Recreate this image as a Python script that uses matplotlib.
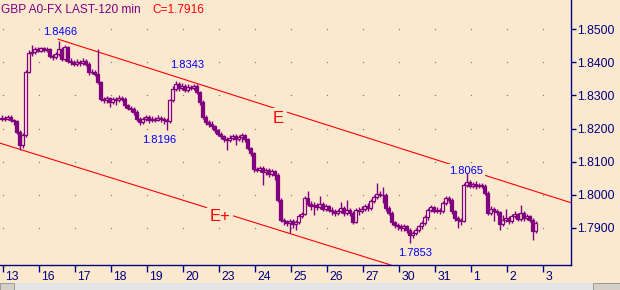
import numpy as np
import matplotlib
matplotlib.use("Agg")
import matplotlib.pyplot as plt
import matplotlib.transforms as mtransforms
from matplotlib.patches import Rectangle

plt.rcParams['font.family'] = ['Liberation Sans', 'DejaVu Sans']

# 120 min bars, 12 per day; open of each bar = previous close
first_open = 1.8228
closes = [
    1.8233, 1.8230, 1.8236, 1.8226, 1.8222, 1.8190, 1.8150, 1.8180, 1.8372, 1.8428,
    1.8432, 1.8440, 1.8435, 1.8442, 1.8438, 1.8440, 1.8420, 1.8415, 1.8425, 1.8440,
    1.8410, 1.8445, 1.8405, 1.8400, 1.8395, 1.8402, 1.8398, 1.8405, 1.8396, 1.8370,
    1.8372, 1.8365, 1.8340, 1.8290, 1.8285, 1.8292, 1.8280, 1.8288, 1.8285, 1.8293,
    1.8290, 1.8270, 1.8262, 1.8258, 1.8250, 1.8228, 1.8220, 1.8228, 1.8235, 1.8225,
    1.8230, 1.8227, 1.8233, 1.8228, 1.8225, 1.8222, 1.8285, 1.8320, 1.8335, 1.8322,
    1.8330, 1.8318, 1.8326, 1.8322, 1.8330, 1.8310, 1.8280, 1.8235, 1.8220, 1.8215,
    1.8208, 1.8195, 1.8185, 1.8178, 1.8168, 1.8165, 1.8172, 1.8178, 1.8170, 1.8176,
    1.8180, 1.8168, 1.8140, 1.8125, 1.8078, 1.8075, 1.8082, 1.8068, 1.8075, 1.8062,
    1.8072, 1.8060, 1.7985, 1.7925, 1.7920, 1.7915, 1.7922, 1.7912, 1.7918, 1.7935,
    1.7942, 1.7990, 1.7972, 1.7965, 1.7970, 1.7962, 1.7972, 1.7958, 1.7965, 1.7955,
    1.7950, 1.7945, 1.7952, 1.7960, 1.7945, 1.7955, 1.7945, 1.7918, 1.7955, 1.7950,
    1.7958, 1.7965, 1.7960, 1.7980, 1.7992, 1.8002, 1.7998, 1.8000, 1.7960, 1.7945,
    1.7918, 1.7910, 1.7905, 1.7900, 1.7905, 1.7895, 1.7880, 1.7885, 1.7895, 1.7905,
    1.7915, 1.7932, 1.7955, 1.7962, 1.7952, 1.7955, 1.7950, 1.7975, 1.7990, 1.7985,
    1.7950, 1.7930, 1.7925, 1.7922, 1.8030, 1.8038, 1.8028, 1.8032, 1.8026, 1.8030,
    1.8028, 1.8005, 1.7945, 1.7958, 1.7952, 1.7948, 1.7912, 1.7925, 1.7930, 1.7920,
    1.7935, 1.7942, 1.7928, 1.7945, 1.7930, 1.7935, 1.7925, 1.7890, 1.7916,
]
highs = [
    1.8240, 1.8238, 1.8242, 1.8240, 1.8230, 1.8226, 1.8195, 1.8186, 1.8378, 1.8436,
    1.8453, 1.8448, 1.8446, 1.8448, 1.8447, 1.8446, 1.8444, 1.8426, 1.8432, 1.8466,
    1.8448, 1.8452, 1.8450, 1.8412, 1.8408, 1.8410, 1.8408, 1.8412, 1.8410, 1.8400,
    1.8380, 1.8378, 1.8440, 1.8345, 1.8296, 1.8298, 1.8296, 1.8294, 1.8295, 1.8300,
    1.8298, 1.8294, 1.8275, 1.8268, 1.8264, 1.8255, 1.8234, 1.8236, 1.8242, 1.8240,
    1.8238, 1.8236, 1.8240, 1.8238, 1.8234, 1.8232, 1.8290, 1.8330, 1.8343, 1.8340,
    1.8338, 1.8336, 1.8334, 1.8332, 1.8336, 1.8334, 1.8314, 1.8286, 1.8240, 1.8226,
    1.8222, 1.8212, 1.8200, 1.8190, 1.8182, 1.8174, 1.8180, 1.8185, 1.8184, 1.8182,
    1.8186, 1.8184, 1.8172, 1.8145, 1.8130, 1.8084, 1.8088, 1.8086, 1.8082, 1.8080,
    1.8078, 1.8076, 1.8065, 1.7990, 1.7930, 1.7925, 1.7928, 1.7926, 1.7925, 1.7942,
    1.7948, 1.7996, 1.8010, 1.7980, 1.7978, 1.7976, 1.7995, 1.7978, 1.7972, 1.7970,
    1.7962, 1.7956, 1.7958, 1.7978, 1.7966, 1.7985, 1.7960, 1.7950, 1.7960, 1.7962,
    1.7965, 1.7972, 1.7975, 1.7986, 1.8000, 1.8036, 1.8010, 1.8025, 1.8004, 1.7965,
    1.7950, 1.7922, 1.7915, 1.7912, 1.7912, 1.7910, 1.7900, 1.7892, 1.7900, 1.7910,
    1.7920, 1.7940, 1.7960, 1.7970, 1.7966, 1.7962, 1.7960, 1.7982, 1.7995, 1.7995,
    1.7990, 1.7955, 1.7935, 1.7930, 1.8036, 1.8065, 1.8045, 1.8040, 1.8042, 1.8036,
    1.8036, 1.8032, 1.8010, 1.7965, 1.7962, 1.7958, 1.7952, 1.7940, 1.7958, 1.7936,
    1.7942, 1.7950, 1.7946, 1.7970, 1.7950, 1.7942, 1.7940, 1.7930, 1.7922,
]
lows = [
    1.8222, 1.8224, 1.8226, 1.8220, 1.8212, 1.8184, 1.8136, 1.8142, 1.8176, 1.8368,
    1.8420, 1.8426, 1.8430, 1.8430, 1.8432, 1.8432, 1.8414, 1.8408, 1.8410, 1.8420,
    1.8404, 1.8405, 1.8398, 1.8392, 1.8388, 1.8390, 1.8390, 1.8392, 1.8388, 1.8362,
    1.8364, 1.8360, 1.8334, 1.8282, 1.8276, 1.8278, 1.8265, 1.8274, 1.8270, 1.8280,
    1.8282, 1.8262, 1.8255, 1.8250, 1.8242, 1.8222, 1.8212, 1.8214, 1.8222, 1.8218,
    1.8220, 1.8220, 1.8222, 1.8220, 1.8215, 1.8196, 1.8218, 1.8280, 1.8315, 1.8315,
    1.8316, 1.8310, 1.8312, 1.8316, 1.8318, 1.8305, 1.8272, 1.8228, 1.8212, 1.8206,
    1.8200, 1.8188, 1.8178, 1.8170, 1.8160, 1.8135, 1.8160, 1.8166, 1.8150, 1.8164,
    1.8158, 1.8160, 1.8134, 1.8118, 1.8070, 1.8068, 1.8070, 1.8030, 1.8060, 1.8055,
    1.8056, 1.8045, 1.7978, 1.7918, 1.7910, 1.7905, 1.7885, 1.7900, 1.7895, 1.7912,
    1.7930, 1.7938, 1.7965, 1.7955, 1.7940, 1.7954, 1.7958, 1.7950, 1.7952, 1.7948,
    1.7940, 1.7935, 1.7938, 1.7945, 1.7935, 1.7940, 1.7935, 1.7912, 1.7915, 1.7940,
    1.7945, 1.7950, 1.7952, 1.7955, 1.7975, 1.7988, 1.7992, 1.7975, 1.7952, 1.7938,
    1.7910, 1.7900, 1.7895, 1.7890, 1.7892, 1.7885, 1.7853, 1.7870, 1.7878, 1.7888,
    1.7898, 1.7910, 1.7925, 1.7948, 1.7945, 1.7946, 1.7942, 1.7945, 1.7970, 1.7975,
    1.7942, 1.7922, 1.7900, 1.7910, 1.7918, 1.8025, 1.8020, 1.8022, 1.8018, 1.8020,
    1.8020, 1.7998, 1.7938, 1.7940, 1.7920, 1.7940, 1.7895, 1.7905, 1.7918, 1.7912,
    1.7915, 1.7930, 1.7920, 1.7922, 1.7922, 1.7925, 1.7918, 1.7864, 1.7885,
]

day_labels = ['13', '16', '17', '18', '19', '20', '23', '24', '25', '26',
              '27', '30', '31', '1', '2', '3']
price_ticks = [1.79, 1.80, 1.81, 1.82, 1.83, 1.84, 1.85]

# channel lines (bar index, price)
upper_a, upper_b = (18.9, 1.8470), (189.8, 1.7976)
lower_a, lower_b = (-0.5, 1.8156), (102.8, 1.7864)

bg = '#fbe9cf'
purple = '#800080'
navy = '#000080'
red = '#ff0000'
blue = '#0000ff'

opens = [first_open] + closes[:-1]
idx = np.arange(len(closes))
o = np.array(opens)
c = np.array(closes)
up = c >= o

fig = plt.figure(figsize=(6.2, 2.9), dpi=100, facecolor=bg)
ax = fig.add_axes([0, 25.0 / 290, 571.0 / 620, 1 - 25.0 / 290])
ax.set_facecolor(bg)

ax.set_xlim(-0.5, 189.8)
ax.set_ylim(1.77879, 1.85885)

# grid dots at tick crossings
day_pos = 0.6 + 12 * np.arange(len(day_labels))
gx, gy = np.meshgrid(day_pos, price_ticks)
ax.plot(gx.ravel(), gy.ravel(), ls='none', marker='s', ms=0.9, mew=0,
        color='#8a8070', zorder=1)

# channel
ax.plot([upper_a[0], upper_b[0]], [upper_a[1], upper_b[1]], color=red, lw=0.8, zorder=2)
ax.axline(lower_a, lower_b, color=red, lw=0.8, zorder=2)

# candles
ax.vlines(idx, lows, highs, color=purple, lw=1.0, zorder=4)
body_lo = np.minimum(o, c)
body_h = np.maximum(np.abs(c - o), 0.00008)
ax.bar(idx[up], body_h[up], bottom=body_lo[up], width=1.0, facecolor=bg,
       edgecolor=purple, lw=0.9, zorder=5)
ax.bar(idx[~up], body_h[~up], bottom=body_lo[~up], width=1.0, facecolor=purple,
       edgecolor=purple, lw=0.9, zorder=5)

# annotations
box = dict(fc=bg, ec='none', pad=1.2)
ax.text(19.7, 1.8483, '1.8466', color=blue, fontsize=8, ha='center', va='baseline', zorder=3)
ax.text(61.8, 1.8382, '1.8343', color=blue, fontsize=8, ha='center', va='baseline', zorder=3)
ax.text(52.7, 1.8156, '1.8196', color=blue, fontsize=8, ha='center', va='baseline', zorder=3)
ax.text(154.8, 1.8063, '1.8065', color=blue, fontsize=8, ha='center', va='baseline',
        zorder=3, bbox=box)
ax.text(137.8, 1.7815, '1.7853', color=blue, fontsize=8, ha='center', va='baseline', zorder=3)
ax.text(92.2, 1.8218, 'E', color=red, fontsize=12, ha='center', va='baseline',
        zorder=3, bbox=dict(fc=bg, ec='none', pad=2.0))
ax.text(72.8, 1.7922, 'E+', color=red, fontsize=12, ha='center', va='baseline',
        zorder=3, bbox=dict(fc=bg, ec='none', pad=2.0))

# axes styling
for s in ['left', 'top']:
    ax.spines[s].set_visible(False)
for s in ['right', 'bottom']:
    ax.spines[s].set_color(navy)
    ax.spines[s].set_linewidth(1.0)

ax.yaxis.tick_right()
ax.set_yticks(price_ticks)
ax.set_yticklabels(['%.4f' % p for p in price_ticks])
ax.tick_params(axis='y', direction='out', length=3.6, width=1, color=navy,
               labelcolor=navy, labelsize=8.8, pad=1)

ax.set_xticks(day_pos)
ax.set_xticklabels(day_labels)
ax.tick_params(axis='x', direction='out', length=4.8, width=1, color=navy,
               labelcolor=navy, labelsize=8.8, pad=-0.5)
shift = mtransforms.ScaledTranslation(2 / 100, 0, fig.dpi_scale_trans)
for lab in ax.get_xticklabels():
    lab.set_horizontalalignment('left')
    lab.set_transform(lab.get_transform() + shift)

# title
fig.text(1 / 620, 1 - 12.7 / 290, 'GBP A0-FX LAST-120 min', color=purple,
         fontsize=8.6, va='baseline', ha='left')
fig.text(152 / 620, 1 - 12.7 / 290, 'C=1.7916', color=red,
         fontsize=8.6, va='baseline', ha='left')

# scroll strip at the bottom
fig.patches.append(Rectangle((0, 0), 1, 7 / 290, transform=fig.transFigure,
                             fc='#e4e4e4', ec='none', hatch='....', zorder=0))
fig.patches.append(Rectangle((0, 0), 14 / 620, 7 / 290, transform=fig.transFigure,
                             fc='#d4d0c8', ec='#808080', lw=0.5))
fig.patches.append(Rectangle((593 / 620, 0), 27 / 620, 7 / 290, transform=fig.transFigure,
                             fc='#d4d0c8', ec='#808080', lw=0.5))

fig.savefig('out.png', dpi=100, facecolor=bg)
